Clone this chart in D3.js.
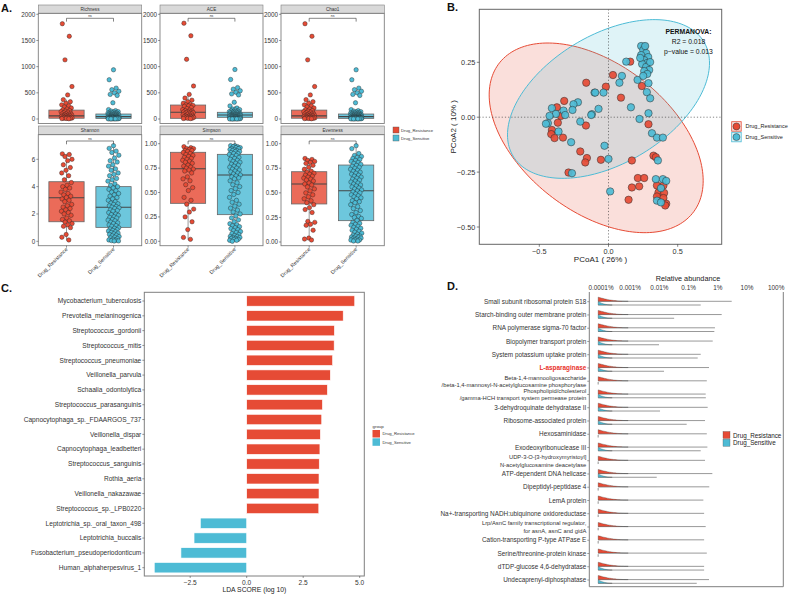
<!DOCTYPE html>
<html><head><meta charset="utf-8">
<script src="https://cdn.jsdelivr.net/npm/d3@7"></script>
<style>body{margin:0;background:#fff}svg{font-family:"Liberation Sans",Arial,Helvetica,sans-serif}</style>
</head><body><svg id="c" width="789" height="594"></svg>
<script>
// ---------------- DATA ----------------
const groups = ["Drug_Resistance","Drug_Sensitive"];
const alphaMetrics = ["Richness","ACE","Chao1","Shannon","Simpson","Evenness"];

const richnessRes = [1820,1580,1130,620,460,370,330,300,270,250,230,210,190,175,160,150,140,130,120,110,100,95,90,80,75,70,65,60,55,50,45,40,35,30,28,25,22,20,18,15,12,10,8,5];
const richnessSen = [940,750,590,560,530,500,470,450,310,180,160,150,140,130,125,120,115,110,105,100,98,95,92,90,88,85,82,80,78,75,72,70,68,65,62,60,58,55,52,50,48,46,45,44,42,40,38,36,35,34,32,30,29,28,27,26,25,24,23,22,21,20,19,18,17,16,15,15,14,13,12,12,11,10,10,9,8,8,7,6,6,5,5,4,4,3,3,2];
const aceRes = [1830,1590,1140,630,470,400,360,330,300,280,270,260,250,240,220,200,180,170,160,150,140,135,130,125,120,110,100,95,90,80,70,60,55,50,45,40,35,30,25,20,15,12,10,8];
const aceSen = [945,755,600,570,540,510,480,460,320,250,210,190,180,170,160,150,145,140,135,130,128,125,120,115,110,105,100,98,95,92,90,88,85,82,80,78,76,75,74,72,70,68,66,64,62,60,58,56,54,52,50,48,46,44,42,40,38,36,35,34,33,32,30,28,26,25,24,22,20,18,16,15,14,12,10,9,8,7,6,5,5,4,4,3,3,2,2,1];
const chao1Res = [1820,1580,1130,620,460,370,330,300,270,250,230,210,190,175,160,150,140,130,120,110,100,95,90,80,75,70,65,60,55,50,45,40,35,30,28,25,22,20,18,15,12,10,8,5];
const chao1Sen = [940,750,590,560,530,500,470,450,310,180,160,150,140,130,125,120,115,110,105,100,98,95,92,90,88,85,82,80,78,75,72,70,68,65,62,60,58,55,52,50,48,46,45,44,42,40,38,36,35,34,32,30,29,28,27,26,25,24,23,22,21,20,19,18,17,16,15,15,14,13,12,12,11,10,10,9,8,8,7,6,6,5,5,4,4,3,3,2];
const shannonRes = [6.4,6.35,6.2,6.0,5.9,5.6,5.4,5.2,5.0,4.8,4.5,4.3,4.1,4.0,3.9,3.8,3.6,3.5,3.4,3.3,3.2,3.1,3.0,2.9,2.7,2.6,2.5,2.4,2.3,2.2,2.1,2.0,1.9,1.7,1.6,1.5,1.4,1.3,1.2,1.1,1.0,0.5,0.3,0.1];
const shannonSen = [7.0,6.8,6.6,6.5,6.3,6.1,5.9,5.8,5.6,5.5,5.3,5.2,5.0,4.9,4.8,4.6,4.5,4.4,4.2,4.1,4.0,3.9,3.8,3.7,3.6,3.5,3.4,3.3,3.2,3.1,3.0,2.9,2.8,2.75,2.7,2.6,2.55,2.5,2.45,2.4,2.3,2.25,2.2,2.1,2.0,1.95,1.9,1.8,1.75,1.7,1.6,1.55,1.5,1.4,1.35,1.3,1.2,1.15,1.1,1.0,0.95,0.9,0.85,0.8,0.75,0.7,0.65,0.6,0.55,0.5,0.45,0.4,0.35,0.3,0.25,0.2,0.15,0.1,0.08,0.05,0.03,0.02];
const simpsonRes = [0.97,0.96,0.95,0.95,0.94,0.93,0.93,0.92,0.91,0.9,0.89,0.88,0.87,0.86,0.85,0.84,0.83,0.82,0.81,0.8,0.78,0.77,0.76,0.75,0.74,0.73,0.72,0.7,0.66,0.64,0.62,0.58,0.55,0.52,0.45,0.42,0.38,0.33,0.3,0.25,0.2,0.12,0.04,0.02];
const simpsonSen = [0.98,0.98,0.97,0.97,0.96,0.96,0.95,0.95,0.94,0.94,0.93,0.93,0.92,0.92,0.91,0.9,0.9,0.89,0.88,0.87,0.86,0.85,0.84,0.83,0.82,0.81,0.8,0.79,0.78,0.77,0.76,0.75,0.74,0.73,0.72,0.71,0.7,0.69,0.68,0.67,0.66,0.65,0.64,0.62,0.6,0.58,0.56,0.54,0.52,0.5,0.48,0.45,0.42,0.4,0.38,0.36,0.34,0.32,0.3,0.28,0.26,0.24,0.22,0.2,0.18,0.17,0.16,0.15,0.14,0.13,0.12,0.11,0.1,0.09,0.08,0.07,0.06,0.05,0.05,0.04,0.04,0.03,0.03,0.02,0.02,0.01,0.01,0.0];
const evennessRes = [0.85,0.84,0.83,0.82,0.81,0.8,0.78,0.76,0.74,0.72,0.71,0.7,0.69,0.68,0.67,0.66,0.65,0.64,0.63,0.62,0.6,0.59,0.58,0.56,0.54,0.52,0.5,0.48,0.46,0.44,0.42,0.4,0.38,0.35,0.33,0.3,0.21,0.2,0.18,0.17,0.12,0.04,0.03,0.02];
const evennessSen = [0.98,0.95,0.9,0.88,0.87,0.86,0.85,0.84,0.83,0.82,0.81,0.8,0.79,0.78,0.77,0.76,0.75,0.74,0.73,0.72,0.71,0.7,0.69,0.68,0.67,0.66,0.65,0.64,0.63,0.62,0.61,0.6,0.59,0.58,0.57,0.56,0.55,0.54,0.53,0.52,0.51,0.5,0.49,0.48,0.47,0.46,0.45,0.44,0.42,0.41,0.4,0.38,0.36,0.34,0.32,0.3,0.28,0.26,0.25,0.24,0.22,0.2,0.19,0.18,0.17,0.16,0.15,0.14,0.13,0.12,0.11,0.1,0.09,0.08,0.07,0.06,0.06,0.05,0.05,0.04,0.04,0.03,0.03,0.02,0.02,0.02,0.01,0.01];

// box stats: [lower whisker, Q1, median, Q3, upper whisker]
const richnessBoxRes = [0,15,60,170,370], richnessBoxSen = [0,12,45,95,180];
const aceBoxRes = [0,13,128,267,470], aceBoxSen = [0,32,76,128,250];
const chao1BoxRes = [0,15,60,170,370], chao1BoxSen = [0,12,45,95,180];
const shannonBoxRes = [0.05,1.43,3.19,4.36,6.4], shannonBoxSen = [0,1.02,2.49,4.0,7.0];
const simpsonBoxRes = [0.02,0.389,0.744,0.912,0.97], simpsonBoxSen = [0,0.273,0.679,0.891,0.98];
const evennessBoxRes = [0.02,0.387,0.59,0.715,0.85], evennessBoxSen = [0.01,0.217,0.522,0.783,0.98];

const richTicks = [0,500,1000,1500,2000];
const shannonTicks = [0,2,4,6];
const unitTicks = [0,0.25,0.5,0.75,1];

// PCoA
const pcoaResX = [-0.161,-0.320,-0.373,-0.344,-0.366,-0.163,-0.409,-0.414,-0.390,-0.329,-0.204,-0.156,-0.168,-0.289,0.258,0.157,0.032,0.241,-0.019,0.090,0.289,-0.055,0.169,0.325,0.342,0.212,0.258,0.169,0.222,0.145,0.350,0.397,0.361,0.402,0.350,0.397,0.417,0.410];
const pcoaResY = [0.157,0.074,0.045,0.006,-0.025,-0.038,-0.058,-0.077,-0.095,-0.093,-0.156,-0.186,-0.206,-0.252,0.321,0.253,0.192,0.142,0.139,0.089,-0.032,-0.194,-0.197,-0.175,-0.182,-0.277,-0.277,-0.320,-0.315,-0.376,-0.311,-0.311,-0.343,-0.345,-0.361,-0.368,-0.394,-0.402];
const pcoaSenX = [-0.101,-0.221,-0.253,-0.409,-0.325,-0.260,-0.380,-0.313,-0.120,-0.426,-0.438,-0.204,-0.452,-0.361,-0.270,-0.264,0.236,0.128,0.097,0.079,0.210,0.289,-0.036,-0.096,0.277,0.301,0.162,-0.072,-0.125,0.289,0.224,0.314,0.350,0.393,-0.029,0.000,0.357,0.012,0.342,0.393,0.417,0.379,0.350,0.379,0.251,0.272,0.236,0.287,0.258,0.280,0.243,0.272,0.294,0.258,0.280,0.251,0.301,0.229,0.265];
const pcoaSenY = [0.112,0.068,0.059,0.041,0.030,0.033,0.015,0.010,0.014,0.006,-0.027,-0.020,-0.030,-0.065,-0.114,-0.255,0.324,0.253,0.188,0.157,0.170,0.155,0.112,0.112,0.114,0.086,0.045,0.038,0.010,0.018,-0.008,-0.073,-0.093,-0.093,-0.130,-0.190,-0.197,-0.338,-0.282,-0.282,-0.290,-0.323,-0.380,-0.388,0.306,0.292,0.283,0.274,0.260,0.247,0.242,0.229,0.215,0.210,0.197,0.188,0.251,0.270,0.324];
// 95% ellipse: centre [x,y] and covariance [sxx, sxy, syy]
const ellipseCentre = [[-0.089,-0.094],[0.0,0.083]];
const ellipseCov = [[0.5977,-0.1511,0.1865],[0.5326,0.1194,0.1306]];
const pcoaTicksX = [-0.5,0,0.5];
const pcoaTicksY = [-0.5,-0.25,0,0.25];

// LEfSe
const ldaTaxa = ["Mycobacterium_tuberculosis","Prevotella_melaninogenica","Streptococcus_gordonii","Streptococcus_mitis","Streptococcus_pneumoniae","Veillonella_parvula","Schaalia_odontolytica","Streptococcus_parasanguinis","Capnocytophaga_sp._FDAARGOS_737","Veillonella_dispar","Capnocytophaga_leadbetteri","Streptococcus_sanguinis","Rothia_aeria","Veillonella_nakazawae","Streptococcus_sp._LPB0220","Leptotrichia_sp._oral_taxon_498","Leptotrichia_buccalis","Fusobacterium_pseudoperiodonticum","Human_alphaherpesvirus_1"];
const ldaScore = [4.78,4.27,3.88,3.87,3.80,3.70,3.57,3.35,3.32,3.26,3.24,3.21,3.20,3.20,3.19,-2.05,-2.33,-2.91,-4.09];
const ldaTicks = [-2.5,0,2.5,5];

// KO relative abundance
const koNames = ["Small subunit ribosomal protein S18","Starch-binding outer membrane protein","RNA polymerase sigma-70 factor","Biopolymer transport protein","System potassium uptake protein","L-asparaginase","Beta-1,4-mannooligosaccharide\n/beta-1,4-mannosyl-N-acetylglucosamine phosphorylase","Phospholipid/cholesterol\n/gamma-HCH transport system permease protein","3-dehydroquinate dehydratase II","Ribosome-associated protein","Hexosaminidase","Exodeoxyribonuclease III","UDP-3-O-[3-hydroxymyristoyl]\nN-acetylglucosamine deacetylase","ATP-dependent DNA helicase","Dipeptidyl-peptidase 4","LemA protein","Na+-transporting NADH:ubiquinone oxidoreductase","Lrp/AsnC family transcriptional regulator,\nfor asnA, asnC and gidA","Cation-transporting P-type ATPase E","Serine/threonine-protein kinase","dTDP-glucose 4,6-dehydratase","Undecaprenyl-diphosphatase"];
const koMaxRes = [2.99,1.36,0.80,0.67,0.26,0.50,0.42,0.385,0.45,0.365,0.42,0.44,0.365,0.65,0.51,0.32,0.34,0.385,0.34,0.42,0.34,0.50];
const koMaxSen = [0.26,0.032,0.76,0.0097,0.205,0.0144,0,0.39,0.0105,0.086,0,0.26,0,0.0081,0,0,0,0,0,0,0.34,0.19];
const koTicks = [0.0001,0.001,0.01,0.1,1,10,100];
const koTickLabels = ["0.0001%","0.001%","0.01%","0.1%","1%","10%","100%"];
const koZero = 0.00008;

// ---------------- DRAW ----------------
const RED = "#E64B35", BLUE = "#4DBBD5";
const col = d3.scaleOrdinal().domain(groups).range([RED, BLUE]);
const svg = d3.select("#c");
const defs = svg.append("defs");
let clipId = 0;
function clip(x, y, w, h) {
  const id = "cp" + (clipId++);
  defs.append("clipPath").attr("id", id).append("rect").attr("x", x).attr("y", y).attr("width", w).attr("height", h);
  return "url(#" + id + ")";
}
function label(t, x, y) {
  svg.append("text").attr("x", x).attr("y", y).attr("font-size", 11).attr("font-weight", "bold").attr("fill", "#111").text(t);
}
label("A.", 1, 12); label("B.", 447, 11); label("C.", 1, 292); label("D.", 447, 290);

// ---------- Panel A ----------
const aCols = [[38.3,141.7],[160,263],[281,384.3]];
const aRows = [{s:5, t:13.3, b:123.5, br:18.3}, {s:126, t:134.7, b:245.7, br:141}];
const aRes = [richnessRes, aceRes, chao1Res, shannonRes, simpsonRes, evennessRes];
const aSen = [richnessSen, aceSen, chao1Sen, shannonSen, simpsonSen, evennessSen];
const aBoxRes = [richnessBoxRes, aceBoxRes, chao1BoxRes, shannonBoxRes, simpsonBoxRes, evennessBoxRes];
const aBoxSen = [richnessBoxSen, aceBoxSen, chao1BoxSen, shannonBoxSen, simpsonBoxSen, evennessBoxSen];
const aY = [
  {dom:[0,2000], rng:[119,14.3], ticks:richTicks, fmt:d3.format("d")},
  {dom:[0,2000], rng:[119,14.3], ticks:richTicks, fmt:d3.format("d")},
  {dom:[0,2000], rng:[119,14.3], ticks:richTicks, fmt:d3.format("d")},
  {dom:[0,6], rng:[241.3,159.3], ticks:shannonTicks, fmt:d3.format("d")},
  {dom:[0,1], rng:[241.3,143.7], ticks:unitTicks, fmt:d3.format(".2f")},
  {dom:[0,1], rng:[242,143.7], ticks:unitTicks, fmt:d3.format(".2f")}
];
// deterministic horizontal jitter (position only)
const jit = (i, gi) => ((i * 0.6180339 + gi * 0.37 + 0.13) % 1) - 0.5;
alphaMetrics.forEach((m, k) => {
  const [x0, x1] = aCols[k % 3];
  const R = aRows[Math.floor(k / 3)];
  const g = svg.append("g");
  const x = d3.scalePoint().domain(groups).range([x0, x1]).padding(0.6);
  const step = x.step();
  const y = d3.scaleLinear().domain(aY[k].dom).range(aY[k].rng);
  g.append("rect").attr("x", x0).attr("y", R.s).attr("width", x1 - x0).attr("height", R.t - R.s)
    .attr("fill", "#D9D9D9").attr("stroke", "#7f7f7f").attr("stroke-width", 0.6);
  g.append("text").attr("x", (x0 + x1) / 2).attr("y", (R.s + R.t) / 2 + 1.7).attr("text-anchor", "middle")
    .attr("font-size", 4.6).attr("fill", "#333").text(m);
  const pg = g.append("g").attr("clip-path", clip(x0, R.t, x1 - x0, R.b - R.t));
  const bw = step * 0.75;
  [aBoxRes[k], aBoxSen[k]].forEach((b, gi) => {
    const cx = x(groups[gi]);
    pg.append("line").attr("x1", cx).attr("x2", cx).attr("y1", y(b[0])).attr("y2", y(b[1])).attr("stroke", "#555").attr("stroke-width", 0.6);
    pg.append("line").attr("x1", cx).attr("x2", cx).attr("y1", y(b[3])).attr("y2", y(b[4])).attr("stroke", "#555").attr("stroke-width", 0.6);
    pg.append("rect").attr("x", cx - bw / 2).attr("width", bw).attr("y", y(b[3])).attr("height", Math.max(0.5, y(b[1]) - y(b[3])))
      .attr("fill", col(groups[gi])).attr("fill-opacity", 0.82).attr("stroke", "#666").attr("stroke-width", 0.8);
    pg.append("line").attr("x1", cx - bw / 2).attr("x2", cx + bw / 2).attr("y1", y(b[2])).attr("y2", y(b[2])).attr("stroke", "#444").attr("stroke-width", 1.1);
  });
  [aRes[k], aSen[k]].forEach((vals, gi) => {
    const cx = x(groups[gi]);
    pg.selectAll(null).data(vals).enter().append("circle")
      .attr("cx", (d, i) => cx + jit(i, gi) * 0.24 * step)
      .attr("cy", d => y(d)).attr("r", 2.2)
      .attr("fill", col(groups[gi])).attr("stroke", "#222").attr("stroke-width", 0.4);
  });
  g.append("rect").attr("x", x0).attr("y", R.t).attr("width", x1 - x0).attr("height", R.b - R.t)
    .attr("fill", "none").attr("stroke", "#7f7f7f").attr("stroke-width", 0.9);
  const ya = g.append("g");
  aY[k].ticks.forEach(t => {
    ya.append("line").attr("x1", x0 - 2).attr("x2", x0).attr("y1", y(t)).attr("y2", y(t)).attr("stroke", "#333").attr("stroke-width", 0.5);
    ya.append("text").attr("x", x0 - 3).attr("y", y(t) + 2.2).attr("text-anchor", "end").attr("font-size", 6.3).attr("fill", "#333").text(aY[k].fmt(t));
  });
  const bx1 = x(groups[0]), bx2 = x(groups[1]);
  g.append("path").attr("d", `M${bx1},${R.br + 3.3}V${R.br}H${bx2}V${R.br + 3.3}`).attr("fill", "none").attr("stroke", "#333").attr("stroke-width", 0.6);
  g.append("text").attr("x", (bx1 + bx2) / 2).attr("y", R.br - 1.2).attr("text-anchor", "middle").attr("font-size", 3.5).attr("fill", "#333").text("ns");
  if (k >= 3) {
    groups.forEach(gr => {
      g.append("line").attr("x1", x(gr)).attr("x2", x(gr)).attr("y1", R.b).attr("y2", R.b + 2).attr("stroke", "#333").attr("stroke-width", 0.5);
      g.append("text").attr("transform", `translate(${x(gr) + 1.5},${R.b + 4}) rotate(-45)`).attr("text-anchor", "end")
        .attr("font-size", 5.2).attr("fill", "#333").text(gr);
    });
  }
});
groups.forEach((gr, i) => {
  svg.append("rect").attr("x", 393).attr("y", 127 + i * 8).attr("width", 6).attr("height", 6).attr("fill", col(gr)).attr("stroke", "#555").attr("stroke-width", 0.4);
  svg.append("text").attr("x", 401).attr("y", 131.8 + i * 8).attr("font-size", 4.2).attr("fill", "#333").text(gr);
});

// ---------- Panel B ----------
{
  const L = 479.3, T = 9.3, Rr = 721.7, B = 244.3;
  const x = d3.scaleLinear().domain([-0.5, 0.5]).range([539.3, 677.7]);
  const y = d3.scaleLinear().domain([-0.5, 0.25]).range([227, 62.3]);
  const g = svg.append("g");
  const pg = g.append("g").attr("clip-path", clip(L, T, Rr - L, B - T));
  const line = d3.line().x(d => x(d[0])).y(d => y(d[1])).curve(d3.curveLinearClosed);
  [0, 1].forEach(gi => {
    const [cx, cy] = ellipseCentre[gi];
    const [sxx, sxy, syy] = ellipseCov[gi];
    const l11 = Math.sqrt(sxx), l21 = sxy / l11, l22 = Math.sqrt(syy - l21 * l21);
    const pts = d3.range(0, 2 * Math.PI, Math.PI / 90).map(t => [cx + l11 * Math.cos(t), cy + l21 * Math.cos(t) + l22 * Math.sin(t)]);
    pg.append("path").attr("d", line(pts)).attr("fill", col(groups[gi])).attr("fill-opacity", 0.18)
      .attr("stroke", col(groups[gi])).attr("stroke-width", 1);
  });
  pg.append("line").attr("x1", x(0)).attr("x2", x(0)).attr("y1", T).attr("y2", B).attr("stroke", "#333").attr("stroke-width", 0.6).attr("stroke-dasharray", "1.2,2");
  pg.append("line").attr("x1", L).attr("x2", Rr).attr("y1", y(0)).attr("y2", y(0)).attr("stroke", "#333").attr("stroke-width", 0.6).attr("stroke-dasharray", "1.2,2");
  const pts = [];
  pcoaResX.forEach((v, i) => pts.push({x: v, y: pcoaResY[i], g: groups[0]}));
  pcoaSenX.forEach((v, i) => pts.push({x: v, y: pcoaSenY[i], g: groups[1]}));
  pg.selectAll(null).data(pts).enter().append("circle").attr("cx", d => x(d.x)).attr("cy", d => y(d.y)).attr("r", 3.7)
    .attr("fill", d => col(d.g)).attr("fill-opacity", 0.92).attr("stroke", "#2a2a2a").attr("stroke-width", 0.5);
  g.append("rect").attr("x", L).attr("y", T).attr("width", Rr - L).attr("height", B - T).attr("fill", "none").attr("stroke", "#666").attr("stroke-width", 1);
  pcoaTicksX.forEach(t => {
    g.append("line").attr("x1", x(t)).attr("x2", x(t)).attr("y1", B).attr("y2", B + 2.5).attr("stroke", "#333").attr("stroke-width", 0.6);
    g.append("text").attr("x", x(t)).attr("y", B + 9.5).attr("text-anchor", "middle").attr("font-size", 7.3).attr("fill", "#333").text(d3.format(".1f")(t).replace("-", "\u2212"));
  });
  pcoaTicksY.forEach(t => {
    g.append("line").attr("x1", L - 2.5).attr("x2", L).attr("y1", y(t)).attr("y2", y(t)).attr("stroke", "#333").attr("stroke-width", 0.6);
    g.append("text").attr("x", L - 4).attr("y", y(t) + 2.5).attr("text-anchor", "end").attr("font-size", 7.3).attr("fill", "#333").text(d3.format(".2f")(t).replace("-", "\u2212"));
  });
  g.append("text").attr("x", (L + Rr) / 2).attr("y", 261.5).attr("text-anchor", "middle").attr("font-size", 8).attr("fill", "#222").text("PCoA1 ( 26% )");
  g.append("text").attr("transform", `translate(456,${(T + B) / 2}) rotate(-90)`).attr("text-anchor", "middle").attr("font-size", 8).attr("fill", "#222").text("PCoA2 ( 10% )");
  const tx = 688.5;
  g.append("text").attr("x", tx).attr("y", 34).attr("text-anchor", "middle").attr("font-size", 6.8).attr("font-weight", "bold").attr("fill", "#111").text("PERMANOVA:");
  g.append("text").attr("x", tx).attr("y", 44).attr("text-anchor", "middle").attr("font-size", 6.8).attr("fill", "#111").text("R2 = 0.018");
  g.append("text").attr("x", tx).attr("y", 53.8).attr("text-anchor", "middle").attr("font-size", 6.8).attr("fill", "#111").text("p\u2212value = 0.013");
  groups.forEach((gr, i) => {
    const ky = 121.7 + i * 10.6;
    g.append("rect").attr("x", 731.7).attr("y", ky).attr("width", 9.5).attr("height", 9.5).attr("fill", col(gr)).attr("fill-opacity", 0.18).attr("stroke", col(gr)).attr("stroke-width", 0.8);
    g.append("circle").attr("cx", 736.45).attr("cy", ky + 4.75).attr("r", 3.5).attr("fill", col(gr)).attr("stroke", "#2a2a2a").attr("stroke-width", 0.5);
    g.append("text").attr("x", 745.5).attr("y", ky + 6.7).attr("font-size", 5.5).attr("fill", "#222").text(gr);
  });
}

// ---------- Panel C ----------
{
  const L = 144.3, T = 292.3, Rr = 364.3, B = 576;
  const x = d3.scaleLinear().domain([0, 2.5]).range([246.7, 303.2]);
  const y = d3.scalePoint().domain(ldaTaxa).range([301, 567.7]);
  const bh = y.step() * 0.7;
  const g = svg.append("g");
  g.selectAll(null).data(ldaTaxa).enter().append("rect")
    .attr("x", (d, i) => x(Math.min(0, ldaScore[i]))).attr("width", (d, i) => Math.abs(x(ldaScore[i]) - x(0)))
    .attr("y", d => y(d) - bh / 2).attr("height", bh)
    .attr("fill", (d, i) => ldaScore[i] > 0 ? RED : BLUE).attr("stroke", "#fff").attr("stroke-width", 0.6);
  g.append("rect").attr("x", L).attr("y", T).attr("width", Rr - L).attr("height", B - T).attr("fill", "none").attr("stroke", "#7f7f7f").attr("stroke-width", 1);
  ldaTaxa.forEach(t => {
    g.append("line").attr("x1", L - 2).attr("x2", L).attr("y1", y(t)).attr("y2", y(t)).attr("stroke", "#333").attr("stroke-width", 0.5);
    g.append("text").attr("x", L - 3).attr("y", y(t) + 2.3).attr("text-anchor", "end").attr("font-size", 6.6).attr("fill", "#333").text(t);
  });
  ldaTicks.forEach(t => {
    g.append("line").attr("x1", x(t)).attr("x2", x(t)).attr("y1", B).attr("y2", B + 2).attr("stroke", "#333").attr("stroke-width", 0.5);
    g.append("text").attr("x", x(t)).attr("y", B + 8.5).attr("text-anchor", "middle").attr("font-size", 6.6).attr("fill", "#333").text(d3.format(".1f")(t).replace("-", "\u2212"));
  });
  g.append("text").attr("x", (L + Rr) / 2).attr("y", 591.5).attr("text-anchor", "middle").attr("font-size", 6.8).attr("fill", "#222").text("LDA SCORE (log 10)");
  g.append("text").attr("x", 372.5).attr("y", 428).attr("font-size", 4.4).attr("fill", "#333").text("group");
  groups.forEach((gr, i) => {
    g.append("rect").attr("x", 372.5).attr("y", 430 + i * 8.3).attr("width", 7.5).attr("height", 7.5).attr("fill", col(gr));
    g.append("text").attr("x", 382.5).attr("y", 435.3 + i * 8.3).attr("font-size", 4.2).attr("fill", "#333").text(gr);
  });
}

// ---------- Panel D ----------
{
  const L = 589.3, T = 292, Rr = 783.3, B = 586.7;
  const x = d3.scaleLog().domain([0.0001, 100]).range([601, 776.2]);
  const y = d3.scalePoint().domain(koNames).range([301.7, 580]);
  const g = svg.append("g");
  const x0 = x(koZero);
  const area = d3.area().x(d => d[0]).y0(d => d[1]).y1(d => d[2]).curve(d3.curveBasis);
  koNames.forEach((n, i) => {
    const yc = y(n);
    [[koMaxRes[i], RED, yc - 0.4, 4.2, 30], [koMaxSen[i], BLUE, yc + 3.3, 3.4, 14]].forEach(([mx, c, yb, H, Lz]) => {
      if (mx > 0) {
        const xe = x(mx);
        g.append("line").attr("x1", x0).attr("x2", xe).attr("y1", yb).attr("y2", yb).attr("stroke", "#777").attr("stroke-width", 0.75);
        const len = Math.min(Lz, xe - x0);
        const pts = d3.range(0, 1.0001, 0.05).map(t => [x0 + t * len, yb, yb - H * Math.pow(1 - t, 2.2)]);
        g.append("path").attr("d", area(pts)).attr("fill", c).attr("stroke", "#333").attr("stroke-width", 0.3);
      } else {
        g.append("line").attr("x1", x0).attr("x2", x0).attr("y1", yb - 2.5).attr("y2", yb).attr("stroke", "#444").attr("stroke-width", 0.6);
      }
    });
    const lines = n.split("\n");
    const isHi = n === "L-asparaginase";
    lines.forEach((ln, j) => {
      g.append("text").attr("x", L - 3).attr("y", yc + 2.2 + (lines.length > 1 ? (j - 0.5) * 7.6 : 0))
        .attr("text-anchor", "end").attr("font-size", lines.length > 1 ? 5.8 : 6.4)
        .attr("font-weight", isHi ? "bold" : "normal").attr("fill", isHi ? "#E8302A" : "#333").text(ln);
    });
    g.append("line").attr("x1", L - 2).attr("x2", L).attr("y1", yc).attr("y2", yc).attr("stroke", "#333").attr("stroke-width", 0.5);
  });
  g.append("path").attr("d", `M${L},${T}V${B}H${Rr}V${T}`).attr("fill", "none").attr("stroke", "#7f7f7f").attr("stroke-width", 1);
  koTicks.forEach((t, i) => {
    g.append("text").attr("x", x(t)).attr("y", 289.5).attr("text-anchor", "middle").attr("font-size", 6.4).attr("fill", "#333").text(koTickLabels[i]);
  });
  g.append("text").attr("x", 688).attr("y", 281).attr("text-anchor", "middle").attr("font-size", 7.3).attr("fill", "#222").text("Relative abundance");
  groups.forEach((gr, i) => {
    g.append("rect").attr("x", 723).attr("y", 431.5 + i * 7.8).attr("width", 7).attr("height", 7).attr("fill", col(gr)).attr("stroke", "#444").attr("stroke-width", 0.3);
    g.append("text").attr("x", 733).attr("y", 437.5 + i * 7.8).attr("font-size", 6.3).attr("fill", "#222").text(gr);
  });
}
</script></body></html>
